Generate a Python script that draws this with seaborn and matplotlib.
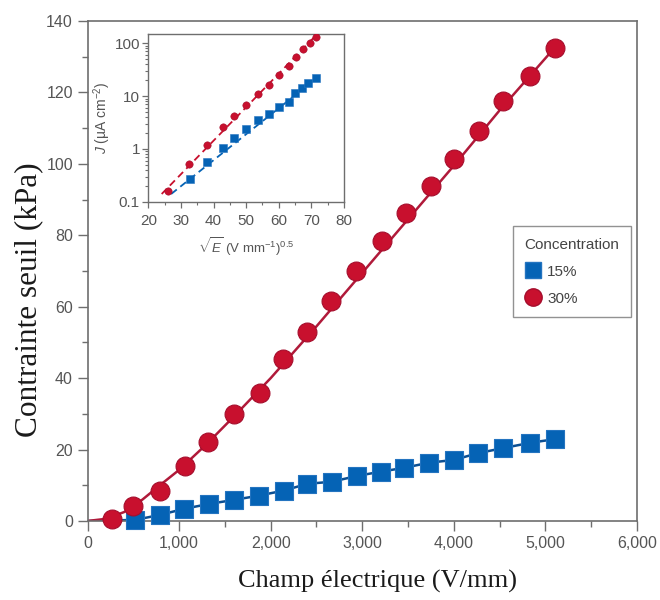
import numpy as np
import pandas as pd
import matplotlib
matplotlib.use("Agg")
import matplotlib.pyplot as plt
import seaborn as sns
from matplotlib.lines import Line2D
from matplotlib.ticker import MultipleLocator, FixedLocator, FixedFormatter, LogLocator, NullFormatter, FuncFormatter

# ---------------- data ----------------
field_15 = [520, 790, 1055, 1330, 1600, 1870, 2140, 2400, 2670, 2940, 3200, 3460,
            3725, 4000, 4265, 4537, 4836, 5100]
stress_15 = [0.3, 1.7, 3.4, 4.8, 5.9, 7.1, 8.5, 10.4, 11.0, 12.6, 13.8, 14.9,
             16.3, 17.1, 19.0, 20.4, 21.9, 22.9]

field_30 = [265, 500, 790, 1065, 1320, 1600, 1885, 2135, 2395, 2660, 2935, 3215,
            3480, 3750, 4005, 4270, 4540, 4830, 5100]
stress_30 = [0.5, 4.2, 8.4, 15.4, 22.0, 30.0, 35.9, 45.3, 53.0, 61.7, 70.0, 78.5,
             86.3, 93.9, 101.3, 109.2, 117.6, 124.6, 132.4]

# fitted curve for 30 %
fit30_x = [0, 200, 400, 600, 800, 1000, 1300, 1600, 2000, 2500, 3000, 3500, 4000, 4500, 5100]
fit30_y = [0, 0.6, 2.5, 6.0, 10.2, 14.3, 21.5, 29.3, 40.0, 54.5, 69.5, 84.5, 99.5, 115.0, 132.5]

# inset: J vs sqrt(E)
inset_x_15 = [32.8, 37.9, 42.8, 46.2, 49.9, 53.7, 57.0, 60.1, 63.2, 64.9, 67.0, 69.0, 71.5]
inset_j_15 = [0.27, 0.57, 1.03, 1.58, 2.35, 3.5, 4.5, 6.1, 7.8, 11.6, 14.1, 17.5, 22.0]
inset_x_30 = [26.1, 32.5, 37.9, 42.8, 46.3, 49.9, 53.7, 56.9, 60.0, 63.2, 65.2, 67.3, 69.5, 71.3]
inset_j_30 = [0.16, 0.52, 1.19, 2.6, 4.2, 6.8, 11.0, 16.0, 25.0, 37.0, 54.0, 77.0, 103.0, 133.0]
inset_fit15_x = [27.0, 72.0]
inset_fit15_j = [0.14, 23.0]
inset_fit30_x = [24.1, 71.5]
inset_fit30_j = [0.14, 143.0]

labels = ["15%", "30%"]
x_ticks = [0, 1000, 2000, 3000, 4000, 5000, 6000]
y_ticks = [0, 20, 40, 60, 80, 100, 120, 140]
inset_xticks = [20, 30, 40, 50, 60, 70, 80]
inset_yticks = [0.1, 1, 10, 100]
inset_ytick_labels = ["0.1", "1", "10", "100"]

# ---------------- style ----------------
sns.set_theme(style="white")
plt.rcParams["font.family"] = ["Liberation Sans", "DejaVu Sans"]
plt.rcParams["mathtext.fontset"] = "custom"
plt.rcParams["mathtext.rm"] = "Liberation Sans"
plt.rcParams["mathtext.it"] = "Liberation Sans:italic"

RED = "#C8102E"
RED_EDGE = "#A50D2C"
RED_LINE = "#B01A3A"
BLUE = "#0563B5"
BLUE_EDGE = "#2474C0"
BLUE_LINE = "#0B4F93"
SPINE = "#6E6E6E"
TICKC = "#555555"

fig = plt.figure(figsize=(6.6, 6.0), dpi=100)
ax = fig.add_axes([0.1326, 0.1317, 0.8326, 0.8333])

df15 = pd.DataFrame({"field": field_15, "stress": stress_15})
df30 = pd.DataFrame({"field": field_30, "stress": stress_30})
line15 = pd.DataFrame({"field": [0] + field_15, "stress": [0] + stress_15})
fit30 = pd.DataFrame({"field": fit30_x, "stress": fit30_y})

sns.lineplot(data=line15, x="field", y="stress", ax=ax, color=BLUE_LINE, lw=1.8,
             sort=False, zorder=2, estimator=None)
sns.lineplot(data=fit30, x="field", y="stress", ax=ax, color=RED_LINE, lw=1.8,
             sort=False, zorder=2, estimator=None)
sns.scatterplot(data=df15, x="field", y="stress", ax=ax, marker="s", s=160,
                color=BLUE, edgecolor=BLUE_EDGE, linewidth=0.8, zorder=3,
                clip_on=False, legend=False)
sns.scatterplot(data=df30, x="field", y="stress", ax=ax, marker="o", s=185,
                color=RED, edgecolor=RED_EDGE, linewidth=0.8, zorder=4,
                clip_on=False, legend=False)

ax.set_xlim(0, 6000)
ax.set_ylim(0, 140)
ax.xaxis.set_major_locator(FixedLocator(x_ticks))
ax.xaxis.set_major_formatter(FuncFormatter(lambda v, p: f"{int(v):,}"))
ax.xaxis.set_minor_locator(MultipleLocator(500))
ax.yaxis.set_major_locator(FixedLocator(y_ticks))
ax.yaxis.set_minor_locator(MultipleLocator(10))
ax.tick_params(axis="both", which="major", direction="out", length=7, width=1,
               color=SPINE, labelcolor=TICKC, labelsize=11.5, bottom=True, left=True)
ax.tick_params(axis="both", which="minor", direction="out", length=4, width=1,
               color=SPINE, bottom=True, left=True)
for sp in ax.spines.values():
    sp.set_color(SPINE)
    sp.set_linewidth(1.2)

ax.set_xlabel("Champ électrique (V/mm)", family=["Liberation Serif"], fontsize=19,
              color="#1a1a1a")
ax.set_ylabel("Contrainte seuil (kPa)", family=["Liberation Serif"], fontsize=22.5,
              color="#1a1a1a")
ax.xaxis.set_label_coords(0.527, -0.098)
ax.yaxis.set_label_coords(-0.08, 0.442)

handles = [Line2D([], [], ls="", marker="s", markersize=11.5, color=BLUE, markeredgecolor=BLUE_EDGE),
           Line2D([], [], ls="", marker="o", markersize=12.5, color=RED, markeredgecolor=RED_EDGE)]
leg = ax.legend(handles, labels, title="Concentration", loc="upper left",
                bbox_to_anchor=(0.76, 0.605), frameon=True, fancybox=False,
                edgecolor="#777777", fontsize=11, title_fontsize=11,
                handletextpad=0.3, handlelength=1.2, labelspacing=0.85,
                borderpad=0.75, alignment="left")
leg.get_frame().set_linewidth(1.0)
for t in leg.get_texts():
    t.set_color("#444444")
leg.get_title().set_color("#444444")

# ---------------- inset ----------------
ins = fig.add_axes([0.2247, 0.6638, 0.2965, 0.279])
ins_df15 = pd.DataFrame({"x": inset_x_15, "j": inset_j_15})
ins_df30 = pd.DataFrame({"x": inset_x_30, "j": inset_j_30})
ins_fit15 = pd.DataFrame({"x": inset_fit15_x, "j": inset_fit15_j})
ins_fit30 = pd.DataFrame({"x": inset_fit30_x, "j": inset_fit30_j})

sns.lineplot(data=ins_fit15, x="x", y="j", ax=ins, color=BLUE, lw=1.3,
             linestyle=(0, (4, 2.5)), zorder=2, estimator=None)
sns.lineplot(data=ins_fit30, x="x", y="j", ax=ins, color=RED, lw=1.3,
             linestyle=(0, (4, 2.5)), zorder=2, estimator=None)
sns.scatterplot(data=ins_df15, x="x", y="j", ax=ins, marker="s", s=30, color=BLUE,
                edgecolor=BLUE_EDGE, linewidth=0.4, zorder=3, legend=False)
sns.scatterplot(data=ins_df30, x="x", y="j", ax=ins, marker="o", s=28, color=RED,
                edgecolor=RED_EDGE, linewidth=0.4, zorder=4, legend=False)

ins.set_yscale("log")
ins.set_xlim(20, 80)
ins.set_ylim(0.1, 148)
ins.xaxis.set_major_locator(FixedLocator(inset_xticks))
ins.xaxis.set_minor_locator(MultipleLocator(5))
ins.yaxis.set_major_locator(FixedLocator(inset_yticks))
ins.yaxis.set_major_formatter(FixedFormatter(inset_ytick_labels))
ins.yaxis.set_minor_locator(LogLocator(base=10, subs=np.arange(2, 10)))
ins.yaxis.set_minor_formatter(NullFormatter())
ins.tick_params(axis="x", which="major", pad=5)
ins.tick_params(axis="both", which="major", direction="out", length=4, width=0.9,
                color=SPINE, labelcolor=TICKC, labelsize=11, bottom=True, left=True)
ins.tick_params(axis="y", which="major", pad=2)
ins.tick_params(axis="both", which="minor", direction="out", length=2.5, width=0.8,
                color=SPINE, bottom=True, left=True)
for sp in ins.spines.values():
    sp.set_color(SPINE)
    sp.set_linewidth(1.0)
ins.set_xlabel(r"$\sqrt{E}$ (V mm$^{-1}$)$^{0.5}$", fontsize=9.5, color=TICKC, labelpad=5)
ins.set_ylabel(r"$J$ (µA cm$^{-2}$)", fontsize=10, color=TICKC, labelpad=1)

fig.savefig("out.png", dpi=100)
